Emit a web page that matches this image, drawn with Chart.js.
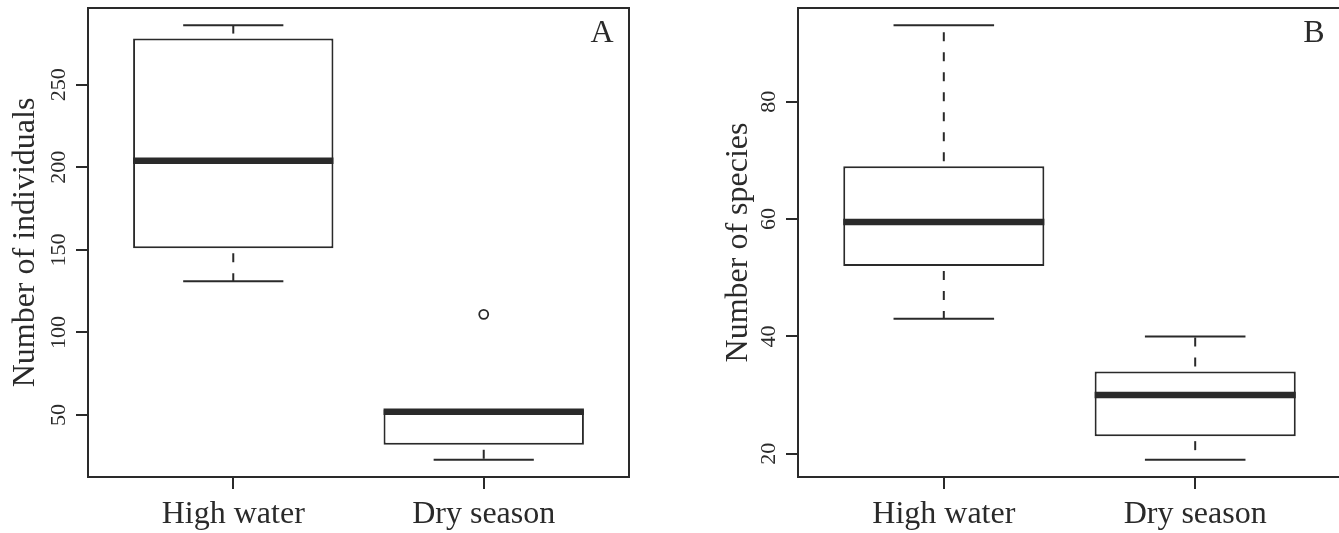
<!DOCTYPE html>
<html>
<head>
<meta charset="utf-8">
<script src="https://cdn.jsdelivr.net/npm/chart.js@4"></script>
<style>
  html, body { margin: 0; padding: 0; background: #fff; overflow: hidden; }
  body { width: 1339px; height: 533px; position: relative; }
  canvas { position: absolute; top: 0; }
</style>
</head>
<body>
<canvas id="chartA" width="669" height="533" style="left:0"></canvas>
<canvas id="chartB" width="672" height="533" style="left:669px"></canvas>
<script>
const groups = ["High water", "Dry season"];

// A - number of individuals
const indivLow = [131, 23];
const indivQ1 = [151, 32];
const indivMedian = [204, 52];
const indivQ3 = [278, 53];
const indivHigh = [286, 53];
const indivOutliers = [[], [111]];
const indivTicks = [50, 100, 150, 200, 250];

// B - number of species
const specLow = [43, 19];
const specQ1 = [52, 23];
const specMedian = [59.5, 30];
const specQ3 = [69, 34];
const specHigh = [93, 40];
const specOutliers = [[], []];
const specTicks = [20, 40, 60, 80];

const INK = "#2a2a2a";
const SERIF = '"Liberation Serif", "Times New Roman", serif';

Chart.defaults.font.family = SERIF;
Chart.defaults.color = INK;

// R style axis range: data range plus 4% each side
const rRange = (lo, hi) => {
  const d = (hi - lo) * 0.04;
  return [lo - d, hi + d];
};

const boxPlotPlugin = {
  id: "boxPlot",
  afterDatasetsDraw(chart, args, opts) {
    const { ctx, scales: { y } } = chart;
    const s = opts.stats;
    const bars = chart.getDatasetMeta(0).data;
    ctx.save();
    ctx.strokeStyle = INK;
    bars.forEach((bar, i) => {
      const cx = bar.x;
      const half = bar.width / 2;
      const capHalf = half / 2;
      const pQ1 = y.getPixelForValue(s.q1[i]);
      const pQ3 = y.getPixelForValue(s.q3[i]);
      const pLow = y.getPixelForValue(s.low[i]);
      const pHigh = y.getPixelForValue(s.high[i]);

      // dashed whiskers, drawn from the box outwards
      ctx.lineWidth = 2;
      ctx.setLineDash([9, 11]);
      ctx.lineDashOffset = 15;
      [[pQ3, pHigh], [pQ1, pLow]].forEach(([a, b]) => {
        if (Math.abs(a - b) < 1) return;
        ctx.beginPath();
        ctx.moveTo(cx, a);
        ctx.lineTo(cx, b);
        ctx.stroke();
      });
      ctx.setLineDash([]);

      // staples
      [pHigh, pLow].forEach((p) => {
        ctx.beginPath();
        ctx.moveTo(cx - capHalf, p);
        ctx.lineTo(cx + capHalf, p);
        ctx.stroke();
      });

      // median
      ctx.lineWidth = 6.5;
      ctx.lineCap = "butt";
      const pMed = y.getPixelForValue(s.median[i]);
      ctx.beginPath();
      ctx.moveTo(cx - half, pMed);
      ctx.lineTo(cx + half, pMed);
      ctx.stroke();
    });
    ctx.restore();
  },
  afterDraw(chart, args, opts) {
    const { ctx, chartArea: { left, top, right, bottom }, scales: { y } } = chart;
    ctx.save();
    // frame
    ctx.strokeStyle = INK;
    ctx.lineWidth = 2;
    ctx.strokeRect(left, top, right - left, bottom - top);

    // rotated y tick labels, as in R (las = 0)
    ctx.fillStyle = INK;
    ctx.font = "22px " + SERIF;
    ctx.textAlign = "center";
    ctx.textBaseline = "middle";
    opts.ticks.forEach((t) => {
      ctx.save();
      ctx.translate(left - 29, y.getPixelForValue(t));
      ctx.rotate(-Math.PI / 2);
      ctx.fillText(String(t), 0, 0);
      ctx.restore();
    });

    // panel letter
    ctx.font = "32px " + SERIF;
    ctx.fillText(opts.letter, right - 27, top + 26);
    ctx.restore();
  },
};

const makeBoxChart = (idChart, cfg) => {
  const [yMin, yMax] = rRange(
    Math.min(...cfg.low, ...cfg.outliers.flat()),
    Math.max(...cfg.high, ...cfg.outliers.flat()),
  );
  const outlierPoints = [];
  cfg.outliers.forEach((list, i) => list.forEach((v) => outlierPoints.push({ x: i + 1, y: v })));

  return new Chart(document.getElementById(idChart), {
    type: "bar",
    data: {
      datasets: [
        {
          type: "bar",
          data: groups.map((g, i) => ({ x: i + 1, y: [cfg.q1[i], cfg.q3[i]] })),
          backgroundColor: "#ffffff",
          borderColor: INK,
          borderWidth: 2,
          borderSkipped: false,
          barPercentage: 0.8,
          categoryPercentage: 1,
        },
        {
          type: "line",
          data: outlierPoints,
          showLine: false,
          pointRadius: 4.5,
          pointBorderWidth: 1.8,
          pointBorderColor: INK,
          pointBackgroundColor: "rgba(0,0,0,0)",
        },
      ],
    },
    options: {
      responsive: false,
      animation: false,
      events: [],
      layout: { padding: cfg.padding },
      plugins: {
        legend: { display: false },
        tooltip: { enabled: false },
        boxPlot: {
          stats: { low: cfg.low, q1: cfg.q1, median: cfg.median, q3: cfg.q3, high: cfg.high },
          ticks: cfg.ticks,
          letter: cfg.letter,
        },
      },
      scales: {
        x: {
          type: "linear",
          min: 0.42,
          max: 2.58,
          offset: false,
          afterBuildTicks: (scale) => {
            scale.ticks = groups.map((g, i) => ({ value: i + 1 }));
          },
          afterFit: (scale) => {
            scale.height = 56;
          },
          ticks: {
            callback: (v) => groups[v - 1] || "",
            font: { size: 32 },
            color: INK,
            padding: 6,
            maxRotation: 0,
            autoSkip: false,
          },
          grid: {
            offset: false,
            drawOnChartArea: false,
            drawTicks: true,
            tickLength: 12,
            color: INK,
            lineWidth: 2,
          },
          border: { display: true, color: INK, width: 2 },
        },
        y: {
          type: "linear",
          min: yMin,
          max: yMax,
          beginAtZero: false,
          afterBuildTicks: (scale) => {
            scale.ticks = cfg.ticks.map((v) => ({ value: v }));
          },
          afterFit: (scale) => {
            scale.width = cfg.yWidth;
          },
          ticks: { display: false },
          grid: {
            drawOnChartArea: false,
            drawTicks: true,
            tickLength: 12,
            color: INK,
            lineWidth: 2,
          },
          border: { display: true, color: INK, width: 2 },
          title: {
            display: true,
            text: cfg.title,
            font: { size: 32 },
            color: INK,
            padding: { top: 6, bottom: 0 },
          },
        },
      },
    },
    plugins: [boxPlotPlugin],
  });
};

makeBoxChart("chartA", {
  low: indivLow,
  q1: indivQ1,
  median: indivMedian,
  q3: indivQ3,
  high: indivHigh,
  outliers: indivOutliers,
  ticks: indivTicks,
  title: "Number of individuals",
  letter: "A",
  yWidth: 88,
  padding: { left: 0, top: 8, right: 40, bottom: 0 },
});

makeBoxChart("chartB", {
  low: specLow,
  q1: specQ1,
  median: specMedian,
  q3: specQ3,
  high: specHigh,
  outliers: specOutliers,
  ticks: specTicks,
  title: "Number of species",
  letter: "B",
  yWidth: 85,
  padding: { left: 44, top: 8, right: 0, bottom: 0 },
});
</script>
</body>
</html>
